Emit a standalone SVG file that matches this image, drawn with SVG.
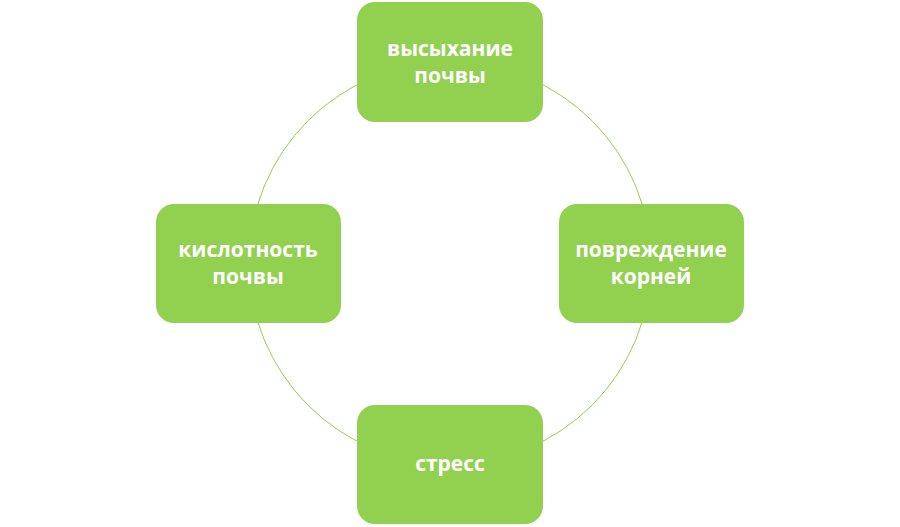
<svg xmlns="http://www.w3.org/2000/svg" width="900" height="527" viewBox="0 0 900 527">
<style>
.node rect{fill:#92d050;}
.node text{fill:#ffffff;font-family:"Open Sans","Liberation Sans",sans-serif;font-weight:bold;font-size:21px;text-anchor:middle;}
.conn{fill:none;stroke:#92d050;stroke-width:1;}
</style>
<rect width="900" height="527" fill="#ffffff"/>
<g id="connectors">
<circle class="conn" cx="450" cy="263" r="201"/>
</g>
<g id="node-top" class="node">
<rect x="357" y="2" width="186" height="120" rx="18"/>
<text x="450" y="56">высыхание</text>
<text x="450" y="83">почвы</text>
</g>
<g id="node-right" class="node">
<rect x="559" y="204" width="185" height="119" rx="18"/>
<text x="651" y="257">повреждение</text>
<text x="651" y="284">корней</text>
</g>
<g id="node-bottom" class="node">
<rect x="357" y="405" width="186" height="119" rx="18"/>
<text x="450" y="471">стресс</text>
</g>
<g id="node-left" class="node">
<rect x="156" y="204" width="185" height="119" rx="18"/>
<text x="248" y="257">кислотность</text>
<text x="248" y="284">почвы</text>
</g>
</svg>
